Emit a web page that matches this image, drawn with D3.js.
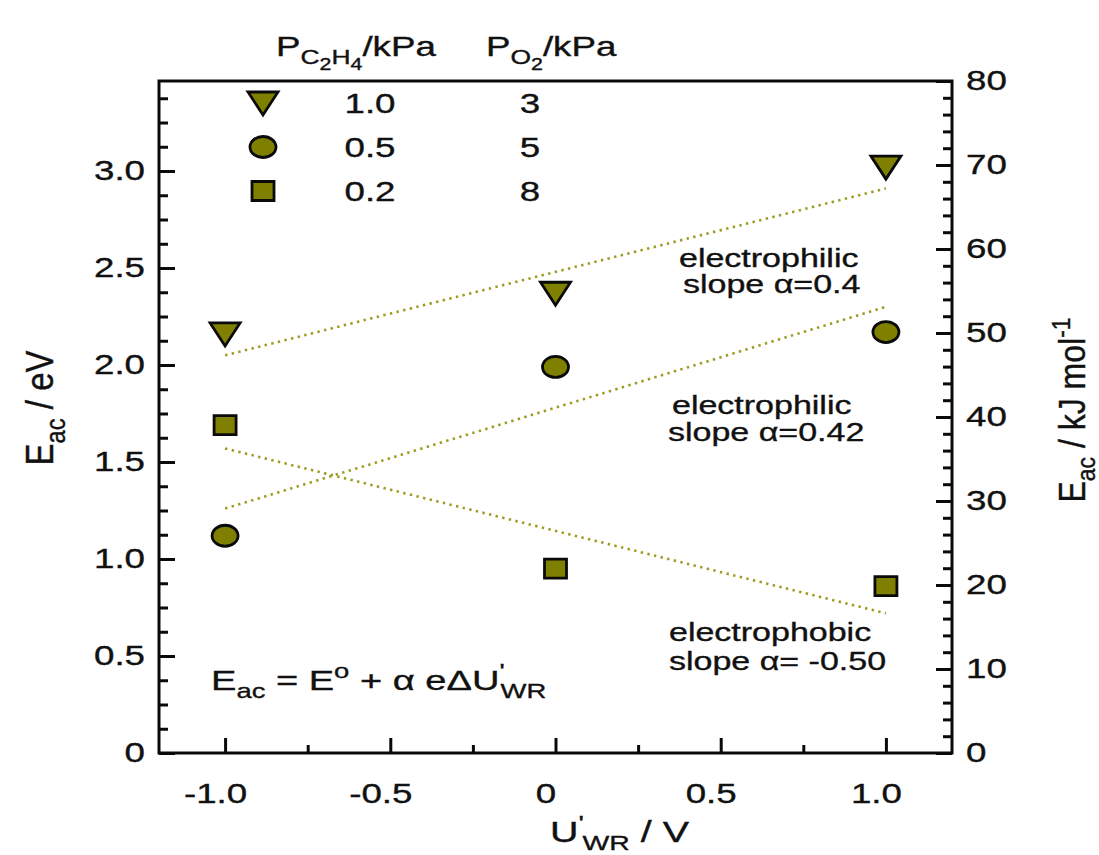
<!DOCTYPE html>
<html>
<head>
<meta charset="utf-8">
<script src="https://cdn.jsdelivr.net/npm/d3@7/dist/d3.min.js"></script>
<style>
  html, body { margin: 0; padding: 0; background: #fff; }
  svg { display: block; }
  text { font-family: "Liberation Sans", Arial, sans-serif; fill: #111; stroke: #111; stroke-width: 0.35px; }
</style>
</head>
<body>
<svg id="chart" width="1099" height="855"></svg>
<script>
// ---- data -------------------------------------------------------------
const potentials = [-1.0, 0.0, 1.0];                 // U'_WR / V
const seriesNames = ["tri", "circ", "sq"];
const pEthylene = ["1.0", "0.5", "0.2"];             // P_C2H4 / kPa
const pOxygen = ["3", "5", "8"];                     // P_O2 / kPa
const eTri  = [2.16, 2.37, 3.02];                    // E_ac / eV
const eCirc = [1.12, 1.99, 2.17];
const eSq   = [1.69, 0.95, 0.86];
// dotted linear fits, endpoints at U = -1 and U = +1
const fitU    = [-1.0, 1.0];
const fitTri  = [2.05, 2.91];
const fitCirc = [1.26, 2.30];
const fitSq   = [1.57, 0.72];
const xMajor = [-1.0, -0.5, 0, 0.5, 1.0];
const xLabels = ["-1.0", "-0.5", "0", "0.5", "1.0"];
const yMajor = [0, 0.5, 1.0, 1.5, 2.0, 2.5, 3.0];
const yLabels = ["0", "0.5", "1.0", "1.5", "2.0", "2.5", "3.0"];
const y2Major = [0, 10, 20, 30, 40, 50, 60, 70, 80];

// ---- layout -----------------------------------------------------------
const svg = d3.select("#chart");
const L = 159, R = 952, T = 81, B = 753;
const SX = 1.36;            // horizontal stretch of lettering
const FS = 27;
const OLIVE = "#808000";
const LINE = "#9c9c22";
const INK = "#0a0a0a";

const x = d3.scaleLinear().domain([-1.2, 1.2]).range([L, R]);
const y = d3.scaleLinear().domain([0, 3.464]).range([B, T]);
const y2 = d3.scaleLinear().domain([0, 80]).range([B, T]);

// rich text: segments [text, kind, dx] where kind is "", "sub", "subsub" or "sup"
function rich(g, px, py, segs, opts = {}) {
  const fs = opts.fs || FS;
  const sx = opts.sx || SX;
  const scale = opts.rot ? `rotate(${opts.rot}) scale(1,${sx})` : `scale(${sx},1)`;
  const grp = g.append("g").attr("transform", `translate(${px},${py}) ${scale}`);
  const t = grp.append("text")
    .attr("text-anchor", opts.anchor || "start")
    .attr("font-size", fs);
  const shift = { "": 0, sub: opts.subShift || 0.3, subsub: 0.5, sup: -0.42 };
  const size = { "": 1, sub: 0.72, subsub: 0.58, sup: 0.72 };
  let cur = 0;
  segs.forEach(([s, kind = "", dx]) => {
    const target = shift[kind] * fs;
    const ts = t.append("tspan").text(s).attr("dy", target - cur);
    if (dx) ts.attr("dx", dx);
    if (kind) ts.attr("font-size", fs * size[kind]);
    cur = target;
  });
  return t;
}

// ---- axes -------------------------------------------------------------
const gx = svg.append("g").attr("transform", `translate(0,${B})`);
gx.call(d3.axisBottom(x).tickValues(xMajor).tickSize(-15).tickSizeOuter(0).tickPadding(31)
  .tickFormat((d, i) => xLabels[i]));
svg.append("g").attr("transform", `translate(0,${B})`)
  .call(d3.axisBottom(x).tickValues([-0.75, -0.25, 0.25, 0.75]).tickSize(-8).tickSizeOuter(0).tickFormat(""));

const gy = svg.append("g").attr("transform", `translate(${L},0)`);
gy.call(d3.axisLeft(y).tickValues(yMajor).tickSize(-16).tickSizeOuter(0).tickPadding(14)
  .tickFormat((d, i) => yLabels[i]));
const yMinor = d3.range(0, 3.45, 0.125).filter(v => Math.abs(v / 0.5 - Math.round(v / 0.5)) > 1e-6);
svg.append("g").attr("transform", `translate(${L},0)`)
  .call(d3.axisLeft(y).tickValues(yMinor).tickSize(-9).tickSizeOuter(0).tickFormat(""));

const gy2 = svg.append("g").attr("transform", `translate(${R},0)`);
gy2.call(d3.axisRight(y2).tickValues(y2Major).tickSize(-16).tickSizeOuter(0).tickPadding(14)
  .tickFormat(d3.format("d")));
const y2Minor = d3.range(0, 80, 2).filter(v => v % 10 !== 0);
svg.append("g").attr("transform", `translate(${R},0)`)
  .call(d3.axisRight(y2).tickValues(y2Minor).tickSize(-9).tickSizeOuter(0).tickFormat(""));

svg.selectAll(".domain").remove();
svg.selectAll(".tick line").attr("stroke", INK).attr("stroke-width", 3);
svg.selectAll(".tick text").attr("font-size", FS).attr("fill", "#111")
  .attr("font-family", "Liberation Sans, Arial, sans-serif");
// stretch tick labels horizontally about their anchor
gx.selectAll(".tick text").attr("x", -10 / SX).attr("transform", `scale(${SX},1)`);
[gy, gy2].forEach(g => g.selectAll(".tick text").each(function () {
  const tx = +d3.select(this).attr("x");
  d3.select(this).attr("transform", `translate(${tx},0) scale(${SX},1) translate(${-tx},0)`);
}));

// frame
svg.append("rect").attr("x", L).attr("y", T).attr("width", R - L).attr("height", B - T)
  .attr("fill", "none").attr("stroke", INK).attr("stroke-width", 3);

// ---- fit lines --------------------------------------------------------
const line = d3.line().x(d => x(d[0])).y(d => y(d[1]));
[fitTri, fitCirc, fitSq].forEach(fit => {
  svg.append("path").datum(fitU.map((u, i) => [u, fit[i]]))
    .attr("d", line).attr("fill", "none").attr("stroke", LINE)
    .attr("stroke-width", 2.6).attr("stroke-dasharray", "2.4,4.4");
});

// ---- markers ----------------------------------------------------------
const shapes = {
  tri: "M-15,-11 L15,-11 L0,12 Z",
  circ: "M-13,0 A13,10.5 0 1,0 13,0 A13,10.5 0 1,0 -13,0 Z",
  sq: "M-11,-9.5 L11,-9.5 L11,9.5 L-11,9.5 Z"
};
function marker(g, kind, px, py) {
  g.append("path").attr("d", shapes[kind]).attr("transform", `translate(${px},${py})`)
    .attr("fill", OLIVE).attr("stroke", INK).attr("stroke-width", 2.8)
    .attr("stroke-linejoin", "miter");
}
const seriesVals = { tri: eTri, circ: eCirc, sq: eSq };
seriesNames.forEach(k => {
  seriesVals[k].forEach((v, i) => marker(svg, k, x(potentials[i]), y(v)));
});

// ---- legend -----------------------------------------------------------
rich(svg, 276, 56, [["P"], ["C", "sub"], ["2", "subsub"], ["H", "sub"], ["4", "subsub"], ["/kPa"]]);
rich(svg, 486, 56, [["P"], ["O", "sub"], ["2", "subsub"], ["/kPa"]]);
seriesNames.forEach((k, i) => {
  const ly = 103 + i * 44;
  marker(svg, k, 263, ly);
  rich(svg, 370, ly + 10, [[pEthylene[i]]], { anchor: "middle" });
  rich(svg, 530, ly + 10, [[pOxygen[i]]], { anchor: "middle" });
});

// ---- annotations ------------------------------------------------------
const AF = 25;
rich(svg, 679, 267, [["electrophilic"]], { fs: AF });
rich(svg, 683, 293, [["slope \u03b1=0.4"]], { fs: AF });
rich(svg, 672, 414, [["electrophilic"]], { fs: AF });
rich(svg, 668, 441, [["slope \u03b1=0.42"]], { fs: AF });
rich(svg, 669, 641, [["electrophobic"]], { fs: AF });
rich(svg, 669, 670, [["slope \u03b1= -0.50"]], { fs: AF });

rich(svg, 211, 690, [["E"], ["ac", "sub"], [" = E"], ["o", "sup"], [" + \u03b1 e\u0394U"],
  ["'", "sup"], ["WR", "sub", -3]], { fs: 28 });

// ---- axis titles ------------------------------------------------------
rich(svg, 550, 842, [["U"], ["'", "sup"], ["WR", "sub", -1], [" / V"]], { fs: 29, subShift: 0.26 });
rich(svg, 53, 408, [["E"], ["ac", "sub"], [" / eV"]], { anchor: "middle", rot: -90, fs: 33, sx: 1.2 });
rich(svg, 1085, 410, [["E"], ["ac", "sub"], [" / kJ mol"], ["-1", "sup"]],
  { anchor: "middle", rot: -90, fs: 32, sx: 1.15, subShift: 0.26 });
</script>
</body>
</html>
